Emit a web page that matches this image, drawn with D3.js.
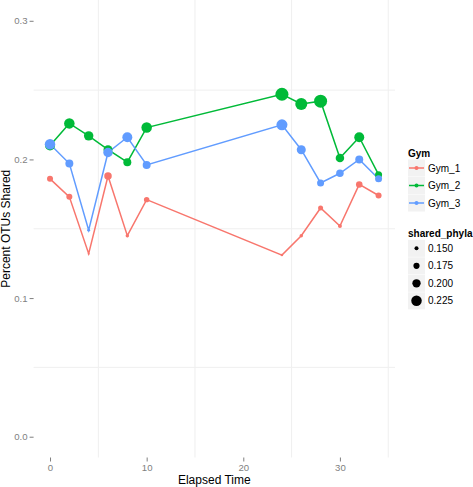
<!DOCTYPE html>
<html><head><meta charset="utf-8">
<script src="https://cdn.jsdelivr.net/npm/d3@7"></script>
<style>body{margin:0;background:#fff}svg{display:block;font-family:"Liberation Sans",Arial,sans-serif}</style>
</head><body><svg id="c" width="473" height="487"></svg>
<script>
const time = [0,2,4,6,8,10,24,26,28,30,32,34];
const gymNames = ["Gym_1","Gym_2","Gym_3"];
const gym1 = [0.186,0.173,0.132,0.188,0.145,0.171,0.131,0.145,0.165,0.152,0.182,0.174];
const gym2 = [0.210,0.226,0.217,0.207,0.198,0.223,0.247,0.240,0.242,0.201,0.216,0.189];
const gym3 = [0.211,0.197,0.149,0.205,0.216,0.196,0.225,0.207,0.183,0.190,0.200,0.186];
const phyla1 = [0.173,0.173,0.127,0.190,0.144,0.167,0.133,0.144,0.162,0.150,0.179,0.173];
const phyla2 = [0.219,0.225,0.213,0.208,0.196,0.225,0.254,0.242,0.254,0.202,0.219,0.185];
const phyla3 = [0.225,0.196,0.138,0.213,0.219,0.196,0.231,0.208,0.185,0.190,0.196,0.185];
const colors = ["#F8766D","#00BA38","#619CFF"];
const yTicks = [0,0.1,0.2,0.3];
const xTicks = [0,10,20,30];
const sizeBreaks = [0.150,0.175,0.200,0.225];

const series = [gym1,gym2,gym3].map((vals,i)=>({
  name: gymNames[i], color: colors[i],
  pts: vals.map((v,j)=>({t: time[j], v, p: [phyla1,phyla2,phyla3][i][j]}))
}));

const svg = d3.select("#c");
const L = 33.6, R = 395, T = 0, B = 457.5;
const x = d3.scaleLinear().domain([-1.7,35.7]).range([L,R]);
const y = d3.scaleLinear().domain([-0.015,0.315]).range([B,T]);
const r = d3.scaleLinear().domain([0.15,0.225]).range([2,5.25]);

// minor grid
const g = svg.append("g");
[5,15,25,35].forEach(v=>g.append("line").attr("x1",x(v)).attr("x2",x(v)).attr("y1",T).attr("y2",B).attr("stroke","#efefef").attr("stroke-width",1));
[0.05,0.15,0.25].forEach(v=>g.append("line").attr("x1",L).attr("x2",R).attr("y1",y(v)).attr("y2",y(v)).attr("stroke","#efefef").attr("stroke-width",1));

// axes
const ya = svg.append("g").attr("transform",`translate(${L},0)`)
  .call(d3.axisLeft(y).tickValues(yTicks).tickFormat(d3.format(".1f")).tickSize(4).tickPadding(2));
const xa = svg.append("g").attr("transform",`translate(0,${B})`)
  .call(d3.axisBottom(x).tickValues(xTicks).tickFormat(d3.format("d")).tickSize(4).tickPadding(3));
[ya,xa].forEach(a=>{
  a.select(".domain").remove();
  a.selectAll(".tick line").attr("stroke","#7f7f7f");
  a.selectAll(".tick text").attr("fill","#7f7f7f").attr("font-size","9.6px").attr("font-family","Liberation Sans, Arial, sans-serif");
});

svg.append("text").attr("x",(L+R)/2).attr("y",484).attr("text-anchor","middle").attr("font-size","12px").text("Elapsed Time");
svg.append("text").attr("transform",`translate(10,${(T+B)/2}) rotate(-90)`).attr("text-anchor","middle").attr("font-size","12px").text("Percent OTUs Shared");

// lines
const line = d3.line().x(d=>x(d.t)).y(d=>y(d.v));
series.forEach(s=>svg.append("path").attr("d",line(s.pts)).attr("fill","none").attr("stroke",s.color).attr("stroke-width",1.5));
// points
series.forEach(s=>svg.append("g").selectAll("circle").data(s.pts).join("circle")
  .attr("cx",d=>x(d.t)).attr("cy",d=>y(d.v)).attr("r",d=>r(d.p)).attr("fill",s.color));

// legend
const lg = svg.append("g");
const lx = 408, kw = 17;
lg.append("text").attr("x",lx).attr("y",157).attr("font-size","10px").attr("font-weight","bold").text("Gym");
series.forEach((s,i)=>{
  const cy = 168 + i*17.5;
  lg.append("rect").attr("x",lx).attr("y",cy-8.5).attr("width",kw).attr("height",kw).attr("fill","#f2f2f2");
  lg.append("line").attr("x1",lx+1).attr("x2",lx+kw-1).attr("y1",cy).attr("y2",cy).attr("stroke",s.color).attr("stroke-width",1.5);
  lg.append("circle").attr("cx",lx+kw/2).attr("cy",cy).attr("r",2).attr("fill",s.color);
  lg.append("text").attr("x",lx+kw+3).attr("y",cy+3.5).attr("font-size","10px").text(s.name);
});
lg.append("text").attr("x",lx).attr("y",237).attr("font-size","10px").attr("font-weight","bold").text("shared_phyla");
sizeBreaks.forEach((b,i)=>{
  const cy = 248.3 + i*17.5;
  lg.append("rect").attr("x",lx).attr("y",cy-8.5).attr("width",kw).attr("height",kw).attr("fill","#f2f2f2");
  lg.append("circle").attr("cx",lx+kw/2).attr("cy",cy).attr("r",r(b)).attr("fill","#000");
  lg.append("text").attr("x",lx+kw+3).attr("y",cy+3.5).attr("font-size","10px").text(d3.format(".3f")(b));
});
</script></body></html>
